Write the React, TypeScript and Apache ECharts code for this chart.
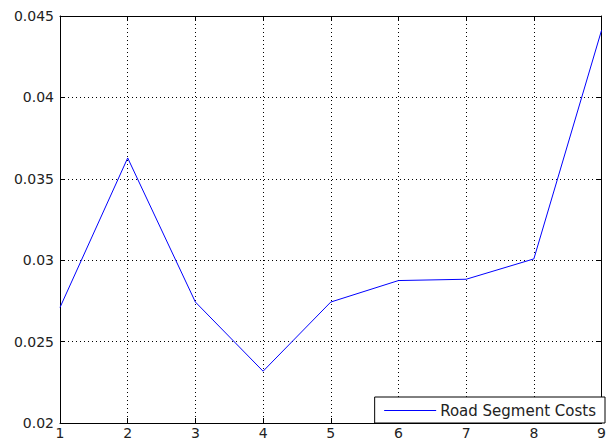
import React, { useEffect, useRef } from "react";
import * as echarts from "echarts";

const xValues = [1, 2, 3, 4, 5, 6, 7, 8, 9];
const costs = [0.0271, 0.03628, 0.02743, 0.02318, 0.02743, 0.02875, 0.02883, 0.03008, 0.04412];
const seriesName = "Road Segment Costs";

export default function App() {
  const ref = useRef<HTMLDivElement>(null);
  useEffect(() => {
    if (!ref.current) return;
    const chart = echarts.init(ref.current, undefined, { renderer: "svg" });
    const font = "'DejaVu Sans', sans-serif";
    const axisLine = { show: true, lineStyle: { color: "#000", width: 1 } };
    const tick = { show: true, inside: true, length: 5, lineStyle: { color: "#000" } };
    const split = { show: true, lineStyle: { color: "#000", type: [1, 3] as any, width: 1 } };
    chart.setOption({
      animation: false,
      backgroundColor: "#fff",
      grid: { left: 60, top: 16, width: 545, height: 407 },
      xAxis: [
        {
          type: "value", min: 1, max: 9, interval: 1, position: "bottom",
          axisLine, axisTick: tick, splitLine: split,
          axisLabel: { color: "#222", fontSize: 14, fontFamily: font, margin: 3 },
        },
        {
          type: "value", min: 1, max: 9, interval: 1, position: "top",
          axisLine, axisTick: tick, splitLine: { show: false }, axisLabel: { show: false },
        },
      ],
      yAxis: [
        {
          type: "value", min: 0.02, max: 0.045, interval: 0.005, position: "left",
          axisLine, axisTick: tick, splitLine: split,
          axisLabel: {
            color: "#222", fontSize: 14, fontFamily: font, margin: 6,
            formatter: (v: number) => String(+v.toFixed(3)),
          },
        },
        {
          type: "value", min: 0.02, max: 0.045, interval: 0.005, position: "right",
          axisLine, axisTick: tick, splitLine: { show: false }, axisLabel: { show: false },
        },
      ],
      legend: {
        right: 4, bottom: 20,
        orient: "horizontal",
        backgroundColor: "#fff",
        borderColor: "#000", borderWidth: 1, borderRadius: 0,
        padding: [6, 9, 5, 9],
        itemWidth: 52, itemHeight: 14,
        itemStyle: { opacity: 0 },
        lineStyle: { color: "#0000ff", width: 1, opacity: 1 },
        textStyle: { color: "#222", fontSize: 15, fontFamily: font, padding: [0, 0, 0, -1] },
        data: [seriesName],
      },
      series: [
        {
          name: seriesName, type: "line", symbol: "none",
          lineStyle: { color: "#0000ff", width: 1 },
          itemStyle: { color: "#0000ff" },
          data: xValues.map((x, i) => [x, costs[i]]),
        },
      ],
    });
    return () => chart.dispose();
  }, []);
  return <div ref={ref} style={{ position: "fixed", left: 0, top: 0, width: 609, height: 443 }} />;
}
